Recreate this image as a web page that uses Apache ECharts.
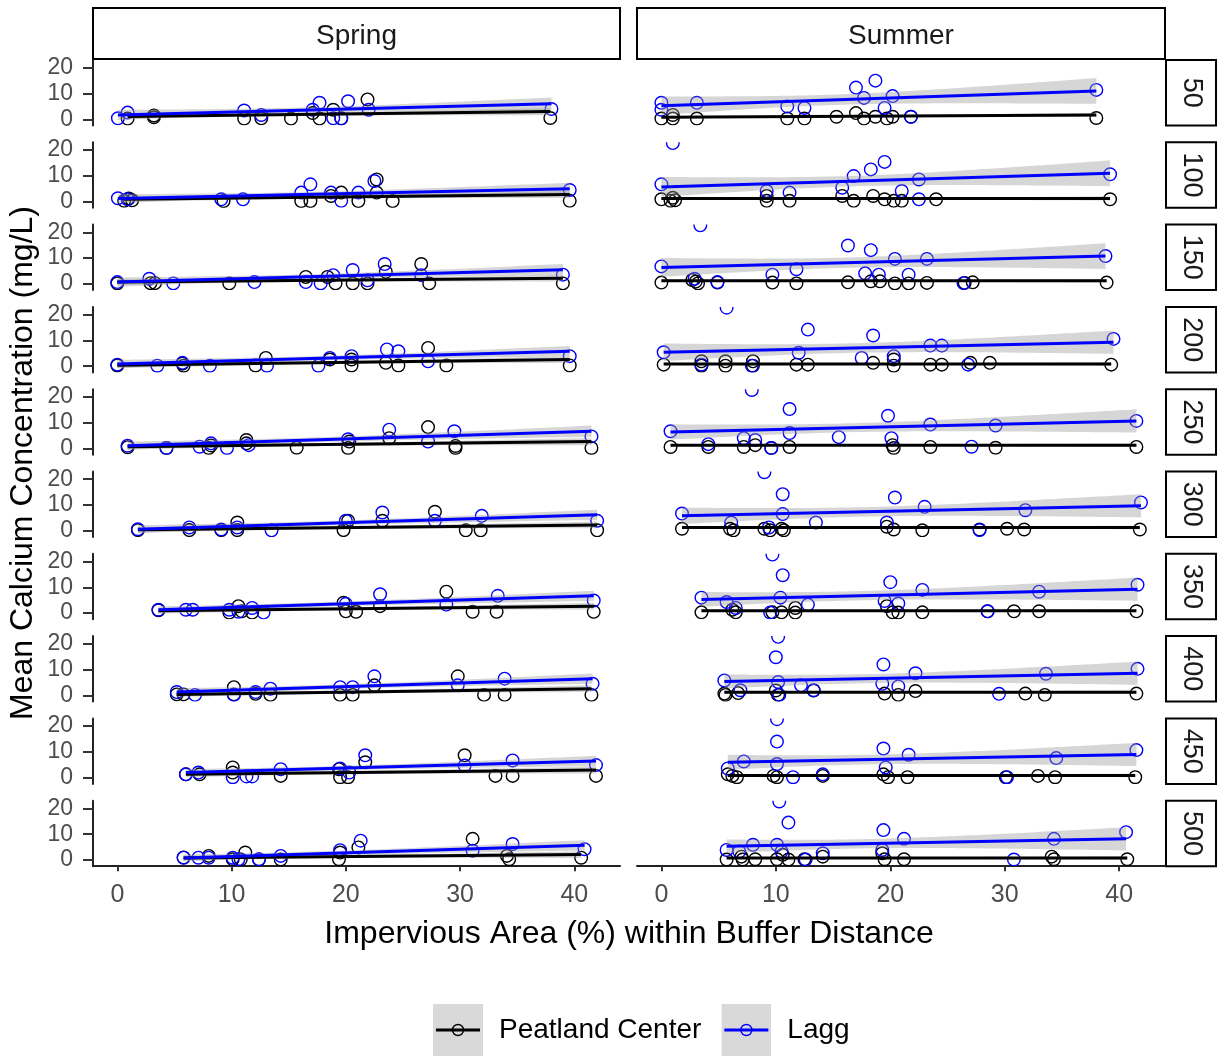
<!DOCTYPE html>
<html><head><meta charset="utf-8">
<script src="https://cdn.jsdelivr.net/npm/echarts/dist/echarts.min.js"></script>
<style>html,body{margin:0;padding:0;background:#fff}#c{width:1225px;height:1057px}</style>
</head><body><div id="c"></div><script>
// ---------------- DATA ----------------
const distances = [50,100,150,200,250,300,350,400,450,500];
const seasons = ['Spring','Summer'];
const groups = ['Peatland Center','Lagg'];
const xTicks = [0,10,20,30,40];
const yTicks = [0,10,20];

// points [impervious %, Ca mg/L], one list per buffer distance (50..500)
const springCenter = [
 [[0.9,0.3],[3.2,0.8],[3.2,1.5],[11.1,0.3],[12.6,0.4],[15.2,0.3],[17.1,2.4],[17.7,0.3],[18.9,3.7],[19.6,0.4],[21.9,7.7],[37.9,0.5]],
 [[0.6,0.3],[1.0,1.2],[1.3,0.5],[9.3,0.2],[16.1,0.2],[16.9,0.2],[18.7,2.2],[19.6,3.5],[21.1,0.2],[22.7,8.6],[22.7,3.5],[24.1,0.2],[39.6,0.3]],
 [[0,0.2],[2.9,0.3],[3.3,0.3],[9.8,0.2],[16.5,2.7],[18.4,2.7],[19.1,0.2],[20.6,0.2],[21.9,0.2],[23.5,4.7],[26.6,7.7],[27.3,0.2],[39.0,0.2]],
 [[0,0.3],[5.8,0.2],[5.7,1.0],[12.1,0.3],[13.0,3.2],[18.6,2.6],[20.5,2.6],[20.5,0.3],[23.5,1.3],[24.6,0.3],[27.2,7.1],[28.8,0.3],[39.6,0.3]],
 [[0.9,0.5],[4.3,0.2],[8.0,0.2],[8.2,1.2],[11.3,2.0],[11.3,3.3],[15.7,0.3],[20.2,0.2],[20.3,2.7],[23.8,4.0],[27.2,8.3],[29.6,0.2],[29.6,1.0],[41.5,0.2]],
 [[1.8,0.3],[6.3,0.3],[9.1,0.3],[10.5,3.2],[10.5,0.3],[19.8,0.3],[20.2,3.9],[23.2,3.9],[27.8,7.4],[30.5,0.2],[31.8,0.2],[42.0,0.2]],
 [[3.6,1.1],[9.8,0.2],[10.6,2.7],[10.9,0.7],[11.8,0.2],[20.0,0.7],[19.8,4.0],[20.9,0.5],[23.0,2.7],[28.8,8.3],[31.1,0.5],[33.2,0.5],[41.7,0.5]],
 [[5.2,0.4],[5.8,0.4],[10.2,3.2],[10.2,0.4],[12.1,0.6],[13.4,0.2],[19.5,0.2],[20.6,0.2],[22.5,3.9],[29.8,7.4],[32.1,0.2],[33.9,0.2],[41.5,0.2]],
 [[6.0,1.3],[7.2,1.3],[10.1,4.0],[10.1,2.0],[14.3,0.7],[19.4,3.3],[19.5,0.2],[20.2,0.2],[21.7,6.0],[30.4,8.7],[33.1,0.7],[34.6,0.7],[41.9,0.7]],
 [[5.8,1.0],[8.0,1.6],[10.1,0.3],[11.2,2.9],[10.8,0.2],[12.4,0.2],[14.3,0.2],[19.4,0.3],[19.5,2.9],[21.1,4.9],[31.1,8.2],[34.3,0.3],[34.1,1.6],[40.6,0.9]]
];
const springLagg = [
 [[0.05,0.4],[0.9,2.6],[11.1,3.4],[12.6,1.7],[17.1,3.7],[17.7,6.4],[18.9,0.4],[19.6,0.3],[20.2,7.0],[22.0,3.7],[38.0,4.0]],
 [[0.05,1.3],[0.9,0.9],[9.1,0.9],[11.0,0.9],[16.1,3.5],[16.9,6.7],[18.7,3.5],[19.6,0.3],[21.1,3.5],[22.5,8.0],[39.6,4.5]],
 [[0,0.7],[2.8,2.0],[4.9,0.2],[12.0,0.7],[16.5,0.7],[17.8,0.2],[18.9,3.4],[20.6,5.4],[21.9,1.4],[23.4,7.7],[26.6,3.4],[39.0,3.6]],
 [[0,0.6],[3.5,0.2],[5.7,1.3],[8.1,0.2],[13.1,0.2],[17.6,0.2],[18.6,3.2],[20.5,3.9],[23.6,6.5],[24.6,5.8],[27.2,1.9],[39.6,3.9]],
 [[0.9,1.1],[4.3,0.2],[7.2,0.7],[8.2,2.0],[9.6,0.2],[11.5,1.3],[20.2,3.6],[23.8,7.3],[27.2,2.7],[29.5,6.7],[41.5,4.7]],
 [[1.8,0.6],[6.3,1.3],[9.1,0.5],[10.5,1.3],[13.5,0.2],[20.0,3.9],[23.2,7.1],[27.8,3.9],[31.9,5.8],[42.0,3.9]],
 [[3.6,1.3],[6.0,1.3],[6.6,1.3],[9.8,1.3],[10.6,0.5],[11.8,2.0],[12.8,0.2],[20.0,3.6],[23.0,7.3],[28.8,3.3],[33.3,6.7],[41.7,4.9]],
 [[5.2,1.3],[6.8,0.2],[10.2,0.2],[12.1,1.3],[13.4,2.6],[19.5,3.2],[20.6,3.2],[22.5,7.4],[29.8,3.9],[33.9,6.5],[41.6,4.5]],
 [[6.0,1.3],[7.1,2.0],[10.1,0.2],[11.3,0.5],[11.8,0.5],[14.3,3.3],[19.5,3.6],[20.3,2.0],[21.7,8.7],[30.4,4.7],[34.6,6.7],[41.9,4.9]],
 [[5.8,0.9],[7.1,0.9],[8.0,0.9],[10.1,0.9],[10.6,0.3],[12.4,0.3],[14.3,1.6],[19.5,3.8],[21.3,7.5],[31.1,3.6],[34.6,6.2],[40.9,4.2]]
];
const summerCenter = [
 [[0,0.3],[1.0,1.7],[1.0,0.3],[3.1,0.3],[11.0,0.3],[12.5,0.3],[15.3,1.0],[17.0,2.4],[17.7,0.3],[18.7,1.0],[19.7,0.3],[20.2,1.0],[21.8,1.0],[38.0,0.5]],
 [[0,0.9],[0.8,0.3],[1.0,1.5],[1.2,0.5],[9.2,2.2],[9.2,0.3],[11.2,0.3],[15.8,2.2],[16.8,0.3],[18.5,2.2],[19.5,0.9],[20.3,0.3],[21.0,0.3],[24.0,0.9],[39.2,0.9]],
 [[0,0.5],[2.7,1.5],[3.0,0.9],[3.2,0.2],[4.9,0.5],[9.7,0.5],[11.8,0.2],[16.3,0.6],[18.3,1.0],[19.1,1.0],[20.4,0.2],[21.6,0.2],[23.2,0.4],[26.5,0.4],[27.2,0.6],[38.9,0.5]],
 [[0.2,0.6],[3.5,1.9],[3.5,0.2],[5.6,1.9],[5.6,0.2],[8.0,1.9],[8.0,0.2],[11.8,0.6],[12.8,0.6],[18.5,1.3],[20.3,2.6],[20.3,0.2],[23.5,0.6],[24.5,0.6],[27.0,1.3],[28.7,1.3],[39.3,0.6]],
 [[0.8,0.6],[4.1,0.6],[7.2,0.6],[8.2,1.3],[9.6,0.2],[11.2,0.6],[20.2,1.3],[20.3,0.2],[23.5,0.6],[29.2,0.3],[41.5,0.6]],
 [[1.8,0.8],[6.0,0.8],[6.3,0.2],[9.0,0.8],[9.5,0.2],[10.5,0.8],[10.7,0.2],[19.7,1.6],[20.3,0.5],[22.8,0.2],[27.8,0.5],[30.2,0.8],[31.7,0.5],[41.8,0.5]],
 [[3.5,0.3],[6.2,1.3],[6.5,0.3],[9.7,0.3],[10.5,0.3],[11.7,2.0],[11.7,0.2],[19.7,2.7],[20.2,0.3],[20.7,0.2],[22.8,0.3],[28.5,0.7],[30.8,0.7],[33.0,0.7],[41.5,0.7]],
 [[5.5,0.7],[5.6,0.2],[6.7,0.9],[10.0,1.9],[10.2,0.2],[13.3,1.9],[19.5,0.7],[20.7,0.2],[22.2,1.7],[31.8,0.7],[33.5,0.2],[41.5,0.7]],
 [[5.8,1.3],[6.2,0.7],[6.6,0.2],[9.8,0.7],[10.1,0.2],[14.1,0.7],[19.4,1.3],[19.8,0.2],[21.5,0.2],[30.1,0.2],[32.9,0.7],[34.4,0.2],[41.4,0.2]],
 [[5.7,0.2],[7.0,1.3],[7.1,0.2],[8.2,0.3],[10.1,0.3],[10.6,2.0],[11.1,0.2],[12.5,0.3],[14.1,1.3],[19.3,2.6],[19.5,0.3],[21.2,0.3],[34.1,1.3],[34.3,0.3],[40.7,0.3]]
];
const summerLagg = [
 [[0,6.4],[0,3.7],[3.1,6.4],[11.0,5.0],[12.5,4.4],[17.0,12.3],[18.7,15.0],[17.7,8.3],[19.5,4.4],[20.2,9.0],[21.8,1.0],[38.0,11.4]],
 [[1.0,22.7],[0,6.7],[9.2,4.1],[11.2,3.5],[15.8,5.4],[16.8,9.9],[18.3,12.5],[19.5,15.4],[21.0,4.1],[22.5,8.6],[22.5,0.9],[39.2,10.6]],
 [[0,6.8],[3.4,22.7],[2.9,2.0],[4.9,0.7],[9.7,3.6],[11.8,5.7],[16.3,14.9],[18.3,13.1],[17.8,4.1],[19.0,3.6],[20.4,9.7],[21.6,3.6],[23.2,9.7],[26.4,0.3],[38.8,10.8]],
 [[0.2,5.4],[5.7,22.7],[3.5,0.6],[7.9,0.2],[12.8,14.2],[12.0,5.2],[18.5,11.9],[17.5,3.2],[20.3,3.9],[23.5,8.0],[24.5,8.0],[26.8,0.6],[39.5,10.6]],
 [[0.8,6.7],[7.9,22.7],[11.2,15.3],[11.2,6.0],[8.2,3.3],[7.2,4.0],[4.1,1.7],[9.6,0.2],[15.5,4.4],[19.8,12.7],[20.1,4.0],[23.5,9.3],[27.1,0.7],[29.2,8.9],[41.5,10.7]],
 [[1.8,6.7],[9.0,22.7],[10.6,14.2],[10.6,6.5],[6.1,3.2],[9.4,1.3],[13.5,3.2],[19.7,3.2],[20.4,12.9],[23.0,9.3],[27.8,0.3],[31.8,8.0],[41.9,11.0]],
 [[3.5,6.0],[9.7,22.7],[10.6,14.7],[10.4,6.0],[5.7,4.3],[6.5,2.0],[9.5,0.2],[12.8,3.3],[19.5,4.7],[20.0,12.0],[20.7,3.7],[22.8,9.0],[28.5,0.7],[33.0,8.3],[41.6,11.0]],
 [[5.5,5.8],[10.2,22.7],[10.0,14.8],[10.2,5.2],[6.9,2.0],[10.3,0.2],[12.2,3.9],[13.3,2.0],[19.4,12.0],[19.3,4.5],[20.7,3.5],[22.2,8.6],[29.5,0.6],[33.6,8.4],[41.6,10.3]],
 [[5.8,3.6],[7.2,6.3],[10.1,22.7],[10.1,14.0],[10.1,5.3],[11.5,0.2],[14.1,1.3],[19.4,11.3],[19.6,4.0],[21.6,8.9],[30.2,0.2],[34.5,7.6],[41.5,10.7]],
 [[5.7,3.9],[6.8,3.3],[8.0,5.9],[10.3,22.7],[11.1,14.5],[10.1,5.9],[10.5,3.3],[12.6,0.2],[14.1,2.6],[19.4,11.6],[19.3,3.9],[21.2,8.2],[30.8,0.2],[34.3,8.2],[40.6,10.8]]
];

// linear fits: [fit at smallest x, fit at largest x, 95% CI half-width at largest x]
const springCenterFit = [[1.1,3.0,1.4],[0.9,2.8,1.4],[0.7,2.2,1.3],[0.4,2.6,1.3],[0.7,2.7,1.4],[0.4,2.3,1.3],[0.9,2.7,1.3],[0.4,2.6,1.3],[1.3,3.0,1.4],[0.8,2.1,1.3]];
const springLaggFit   = [[1.7,6.0,2.5],[1.2,5.0,2.3],[0.7,5.5,2.2],[0.9,5.8,2.0],[1.1,6.7,2.2],[0.6,6.2,2.0],[1.3,6.7,2.0],[1.3,6.5,2.0],[2.0,6.5,2.0],[0.8,5.7,2.0]];
const summerCenterFit = [[0.8,1.7,0.8],[1.2,1.2,0.8],[1.2,1.2,0.7],[0.9,0.9,0.7],[1.3,1.3,0.7],[1.3,1.3,0.7],[0.9,0.9,0.7],[1.2,1.2,0.7],[0.9,0.9,0.7],[0.8,0.8,0.7]];
const summerLaggFit   = [[5.3,11.0,5.0],[5.7,11.0,5.0],[6.4,10.8,5.0],[5.4,9.3,4.5],[6.4,10.7,4.5],[5.8,9.7,4.5],[5.3,9.3,4.5],[5.4,8.6,4.5],[6.0,9.0,4.5],[5.3,8.2,4.5]];

// ---------------- LAYOUT / STYLE ----------------
const FONT = '"Liberation Sans", Arial, sans-serif';
const COLORS = ['#000000', '#0000ff'];
const COL_LEFT = [93, 637], COL_W = [527, 528];
const ROW_TOP0 = 60, ROW_PITCH = 82.3, ROW_H = 65.5;
const X_MIN = -2.13, X_MAX = 44, Y_MIN = -2.4, Y_MAX = 23;

const pointsBy = [[springCenter, springLagg],[summerCenter, summerLagg]];
const fitsBy = [[springCenterFit, springLaggFit],[summerCenterFit, summerLaggFit]];

function band(pts, fit) {
  const xs = pts.map(p => p[0]);
  const n = xs.length;
  const xmin = Math.min(...xs), xmax = Math.max(...xs);
  const xbar = xs.reduce((a,b)=>a+b,0)/n;
  const sxx = xs.reduce((a,x)=>a+(x-xbar)*(x-xbar),0);
  const shape = x => Math.sqrt(1/n + (x-xbar)*(x-xbar)/sxx);
  const k = fit[2] / shape(xmax);
  const lineAt = x => fit[0] + (fit[1]-fit[0])*(x-xmin)/(xmax-xmin);
  const out = [];
  for (let i = 0; i < 80; i++) {
    const x = xmin + (xmax-xmin)*i/79;
    const m = lineAt(x), w = k*shape(x);
    out.push([x, m-w, m+w]);
  }
  return {xmin, xmax, out};
}

const grids = [], xAxes = [], yAxes = [], series = [], graphics = [];
let gi = 0;
for (let r = 0; r < distances.length; r++) {
  for (let c = 0; c < seasons.length; c++) {
    const top = ROW_TOP0 + r*ROW_PITCH;
    grids.push({left: COL_LEFT[c], top: top, width: COL_W[c], height: ROW_H, containLabel: false});
    const bottom = r === distances.length-1;
    xAxes.push({
      type:'value', gridIndex: gi, min: X_MIN, max: X_MAX,
      show: true,
      axisLine: {show: bottom, onZero: false, lineStyle: {color:'#222', width: 2}},
      axisTick: {show: bottom, customValues: xTicks, length: 5, lineStyle:{color:'#333', width: 2}},
      axisLabel: {show: bottom, customValues: xTicks, margin: 16, fontSize: 25, color:'#4d4d4d', fontFamily: FONT},
      splitLine: {show:false}
    });
    const left = c === 0;
    yAxes.push({
      type:'value', gridIndex: gi, min: Y_MIN, max: Y_MAX,
      axisLine: {show: left, onZero: false, lineStyle: {color:'#222', width: 2}},
      axisTick: {show: left, customValues: yTicks, length: 10, lineStyle:{color:'#333', width: 2}},
      axisLabel: {show: left, customValues: yTicks, margin: 20, fontSize: 23, color:'#4d4d4d', fontFamily: FONT},
      splitLine: {show:false}
    });
    // points
    for (let g = 0; g < 2; g++) {
      const col = COLORS[g];
      series.push({
        type:'custom', name: groups[g], xAxisIndex: gi, yAxisIndex: gi, clip: true, silent: true,
        data: pointsBy[c][g][r],
        renderItem: (params, api) => {
          const p = api.coord([api.value(0), api.value(1)]);
          return {type:'circle', shape:{cx:p[0], cy:p[1], r:6.3}, style:{fill:'none', stroke: col, lineWidth:1.4}};
        }
      });
    }
    // smooth: ribbon + line per group
    for (let g = 0; g < 2; g++) {
      const col = COLORS[g];
      const b = band(pointsBy[c][g][r], fitsBy[c][g][r]);
      const fit = fitsBy[c][g][r];
      series.push({
        type:'custom', name: groups[g], xAxisIndex: gi, yAxisIndex: gi, silent: true,
        data: b.out,
        renderItem: (params, api) => {
          if (params.dataIndex !== 0) return null;
          const pts = [];
          b.out.forEach(d => pts.push(api.coord([d[0], d[2]])));
          for (let i = b.out.length-1; i >= 0; i--) pts.push(api.coord([b.out[i][0], b.out[i][1]]));
          return {type:'polygon', shape:{points: pts}, style:{fill:'rgba(153,153,153,0.4)'}};
        }
      });
      series.push({
        type:'line', name: groups[g], xAxisIndex: gi, yAxisIndex: gi, silent: true,
        data: [[b.xmin, fit[0]], [b.xmax, fit[1]]],
        symbol:'none', lineStyle:{color: col, width: 3}, itemStyle:{color: col}
      });
    }
    gi++;
  }
  // right strip
  const top = ROW_TOP0 + r*ROW_PITCH;
  graphics.push({type:'rect', shape:{x:1166, y:top, width:50, height:ROW_H}, style:{fill:'#fff', stroke:'#000', lineWidth:2}});
  graphics.push({type:'text', x:1191, y: top + ROW_H/2, rotation: -Math.PI/2,
    style:{text: String(distances[r]), x:0, y:0, align:'center', verticalAlign:'middle', textAlign:'center', textVerticalAlign:'middle', font: '27px ' + FONT, fill:'#1a1a1a'}});
}
// top strips
for (let c = 0; c < seasons.length; c++) {
  graphics.push({type:'rect', shape:{x:COL_LEFT[c], y:8, width:COL_W[c], height:51}, style:{fill:'#fff', stroke:'#000', lineWidth:2}});
  graphics.push({type:'text', x: COL_LEFT[c] + COL_W[c]/2, y: 36,
    style:{text: seasons[c], x:0, y:0, align:'center', verticalAlign:'middle', textAlign:'center', textVerticalAlign:'middle', font:'28px ' + FONT, fill:'#1a1a1a'}});
}
// axis titles
graphics.push({type:'text', x: 629, y: 934,
  style:{text:'Impervious Area (%) within Buffer Distance', x:0, y:0, align:'center', verticalAlign:'middle', textAlign:'center', textVerticalAlign:'middle', font:'32px ' + FONT, fill:'#000'}});
graphics.push({type:'text', x: 23, y: 463, rotation: Math.PI/2,
  style:{text:'Mean Calcium Concentration (mg/L)', x:0, y:0, align:'center', verticalAlign:'middle', textAlign:'center', textVerticalAlign:'middle', font:'32px ' + FONT, fill:'#000'}});

function keyIcon(col) {
  const svg = '<svg xmlns="http://www.w3.org/2000/svg" width="50" height="52">' +
    '<rect width="50" height="52" fill="#d9d9d9"/>' +
    '<line x1="3" y1="26" x2="47" y2="26" stroke="' + col + '" stroke-width="3"/>' +
    '<circle cx="25" cy="26" r="5.5" fill="none" stroke="' + col + '" stroke-width="1.4"/></svg>';
  return 'image://data:image/svg+xml;charset=utf-8,' + encodeURIComponent(svg);
}

const chart = echarts.init(document.getElementById('c'), null, {renderer:'canvas'});
chart.setOption({
  animation: false,
  backgroundColor: '#fff',
  grid: grids, xAxis: xAxes, yAxis: yAxes, series: series,
  legend: {
    left: 428, top: 999, orient:'horizontal', itemWidth: 50, itemHeight: 52, itemGap: 20,
    selectedMode: false,
    data: groups.map((g,i) => ({name: g, icon: keyIcon(COLORS[i])})),
    textStyle: {fontSize: 28, color:'#000', fontFamily: FONT, padding:[0,0,0,11]}
  },
  graphic: graphics
});
</script></body></html>
